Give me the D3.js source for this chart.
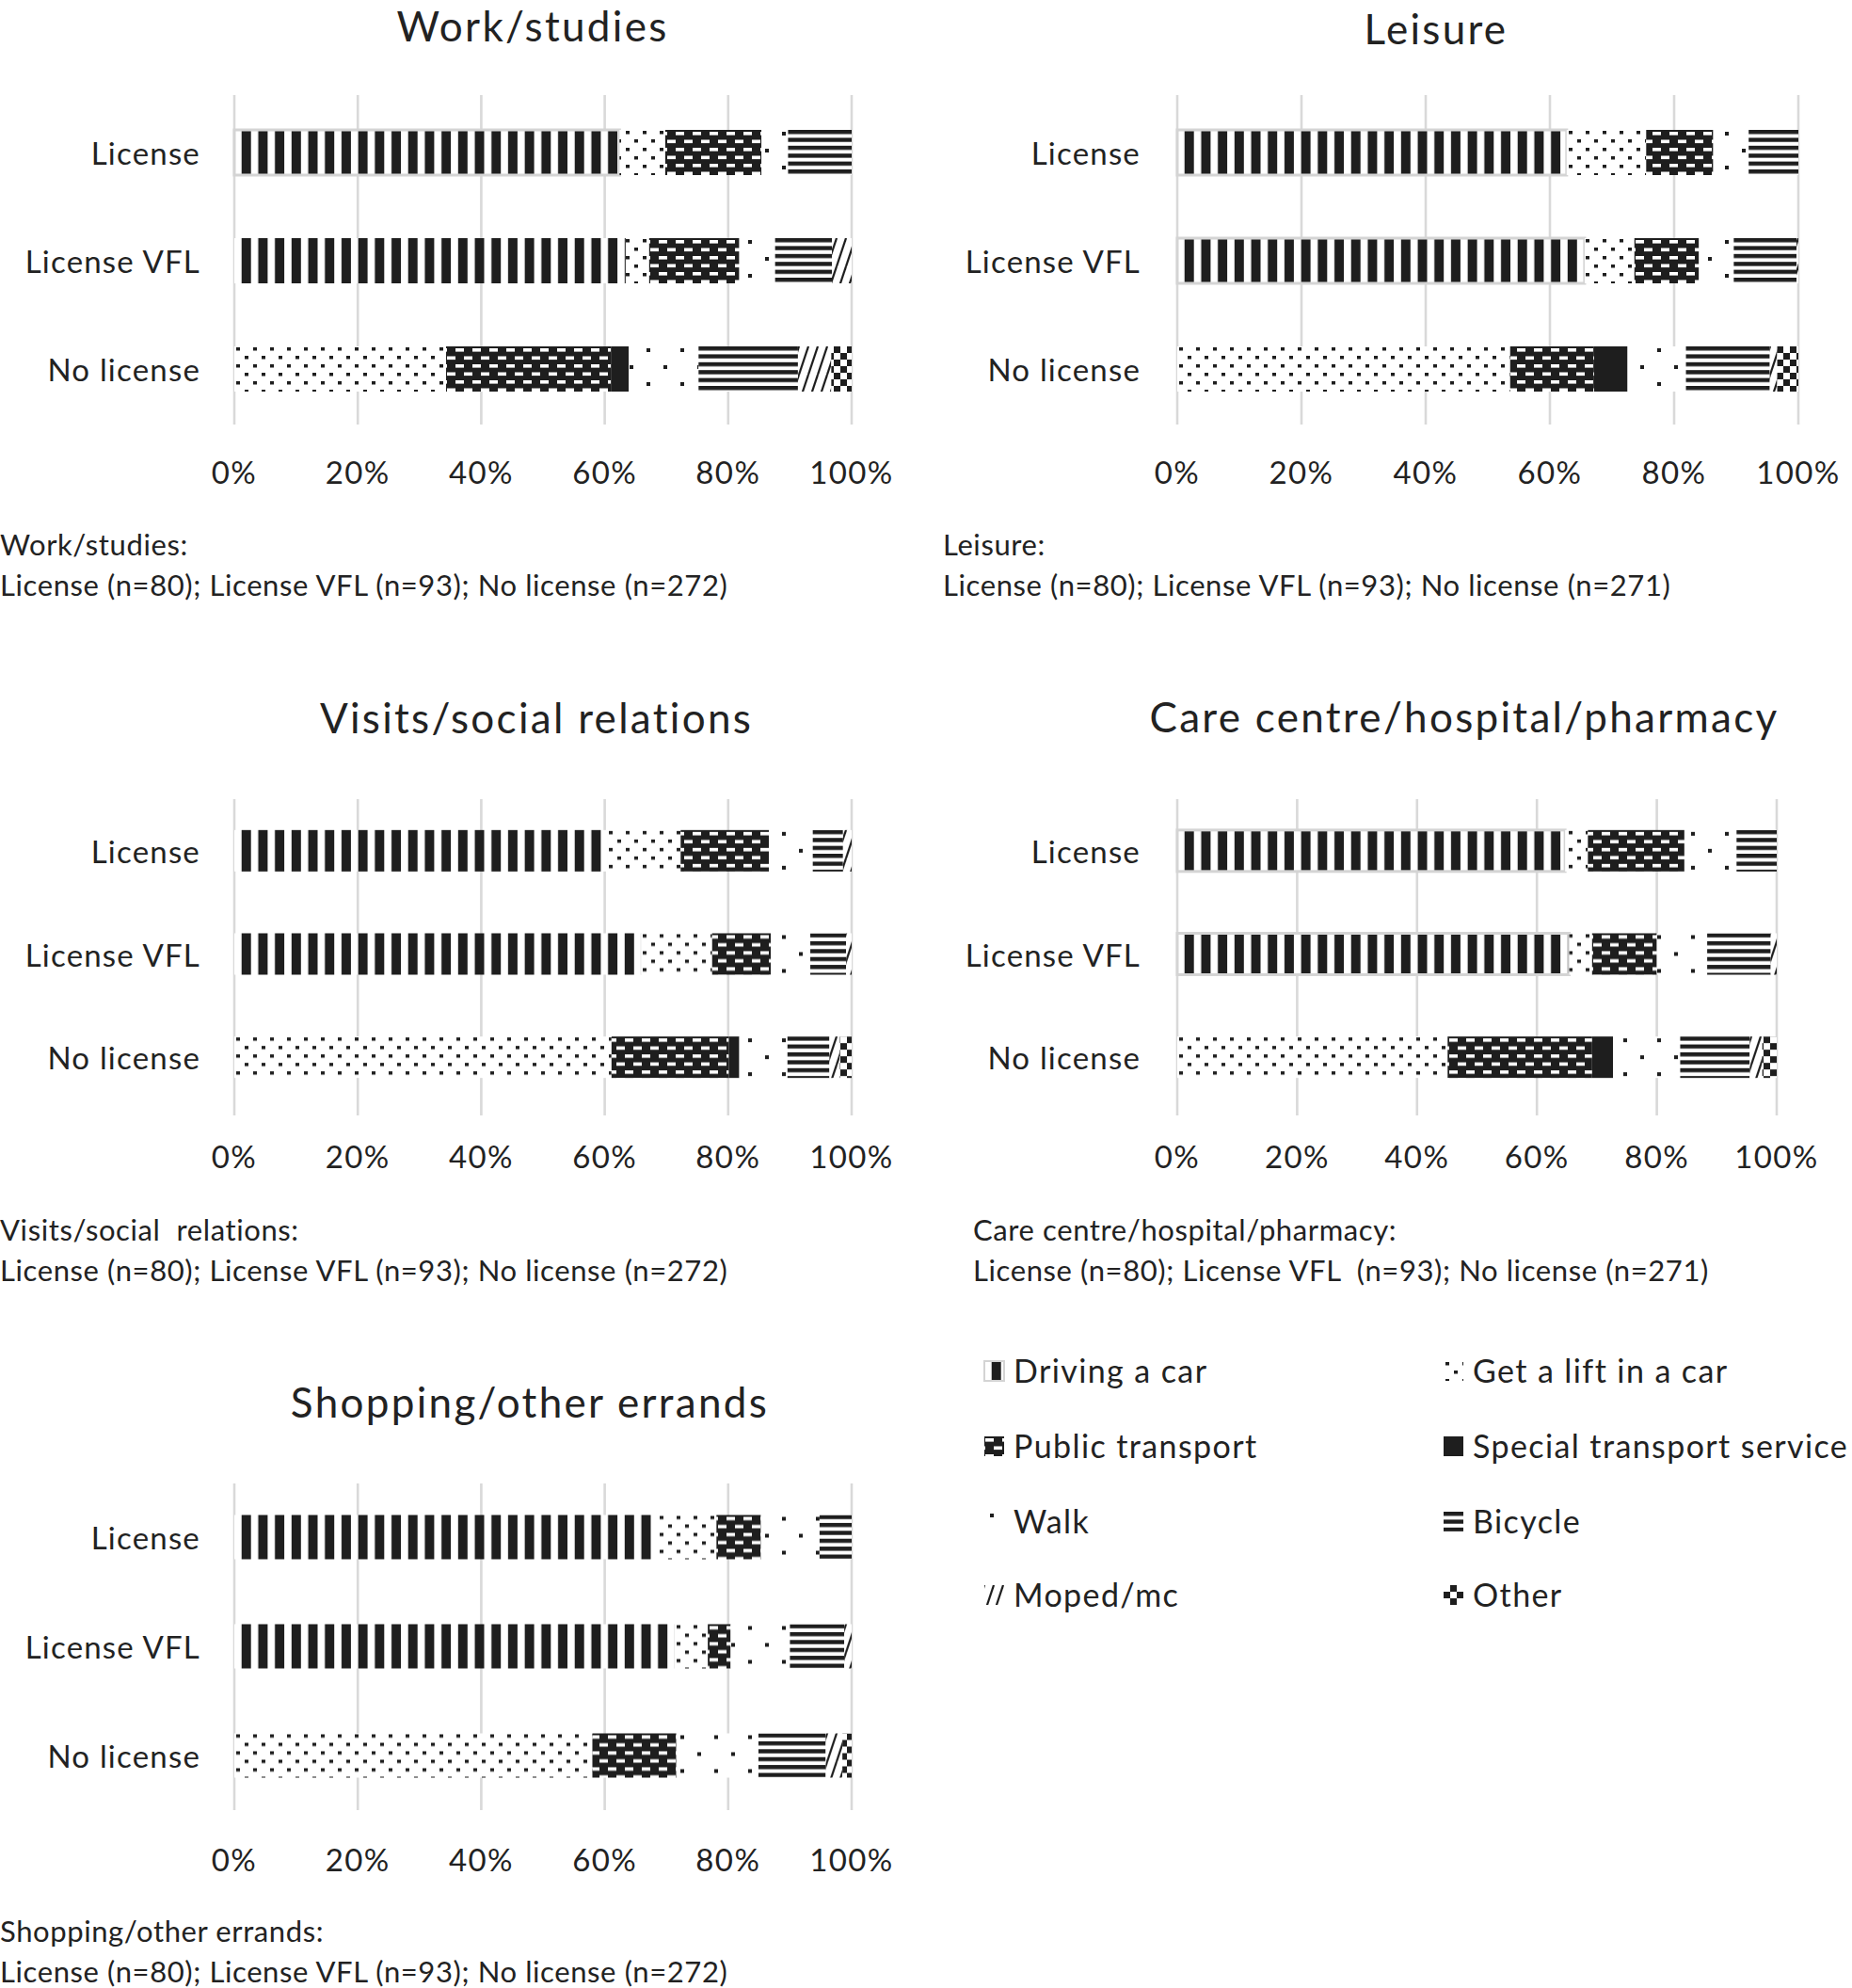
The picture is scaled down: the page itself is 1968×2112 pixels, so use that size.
<!DOCTYPE html>
<html><head><meta charset="utf-8">
<script src="https://cdn.jsdelivr.net/npm/d3@7"></script>
<style>
body{margin:0;background:#fff}
text{font-family:Lato,"Open Sans",sans-serif;fill:#222}
</style>
</head><body>
<svg id="c" width="1968" height="2112"></svg>
<script>
// ---------- data ----------
const groups = ["License", "License VFL", "No license"];
const modes = ["Driving a car", "Get a lift in a car", "Public transport", "Special transport service",
               "Walk", "Bicycle", "Moped/mc", "Other"];
const tickValues = [0, 0.2, 0.4, 0.6, 0.8, 1];
const tickLabels = ["0%", "20%", "40%", "60%", "80%", "100%"];
const purposes = ["Work/studies", "Leisure", "Visits/social relations", "Care centre/hospital/pharmacy", "Shopping/other errands"];
const noteTitles = ["Work/studies:", "Leisure:", "Visits/social\u00a0 relations:", "Care centre/hospital/pharmacy:", "Shopping/other errands:"];
const noteCounts = [
  "License (n=80); License VFL (n=93); No license (n=272)",
  "License (n=80); License VFL (n=93); No license (n=271)",
  "License (n=80); License VFL (n=93); No license (n=272)",
  "License (n=80); License VFL\u00a0 (n=93); No license (n=271)",
  "License (n=80); License VFL (n=93); No license (n=272)"
];
// percentages per mode (order of `modes`)
const workLicense  = [62.4, 7.4, 15.6, 0, 4.3, 10.3, 0, 0];
const workVFL      = [63.4, 3.8, 14.6, 0, 5.8, 9.2, 3.2, 0];
const workNo       = [0, 34.3, 26.7, 2.9, 11.3, 16.1, 5.4, 3.3];
const leisureLicense = [62.7, 12.8, 10.8, 0, 5.7, 8.0, 0, 0];
const leisureVFL     = [65.6, 8.0, 10.4, 0, 5.6, 10.1, 0.3, 0];
const leisureNo      = [0, 53.6, 13.5, 5.4, 9.4, 13.5, 1.2, 3.4];
const visitsLicense = [60.4, 11.9, 14.3, 0, 7.1, 4.9, 1.4, 0];
const visitsVFL     = [65.9, 11.5, 9.5, 0, 6.4, 5.8, 0.9, 0];
const visitsNo      = [0, 61.1, 19.0, 1.7, 7.8, 6.8, 1.7, 1.9];
const careLicense = [64.7, 3.8, 16.1, 0, 8.7, 6.7, 0, 0];
const careVFL     = [65.4, 3.8, 10.8, 0, 8.4, 10.6, 1.0, 0];
const careNo      = [0, 45.1, 24.1, 3.5, 11.2, 11.6, 2.1, 2.4];
const shopLicense = [68.4, 9.7, 7.2, 0, 9.5, 5.2, 0, 0];
const shopVFL     = [71.3, 5.4, 3.7, 0, 9.6, 8.8, 1.2, 0];
const shopNo      = [0, 58.0, 13.6, 0, 13.3, 10.9, 2.7, 1.5];

// ---------- layout ----------
const panels = [
  {data:[workLicense, workVFL, workNo], x0:249, x1:905, gridTop:101, gridBottom:451, band:[104.5,449.5], barH:48,
   titleX:566, titleY:44, tickY:514, labelX:213, noteX:0, noteY:590, outlined:[0]},
  {data:[leisureLicense, leisureVFL, leisureNo], x0:1251, x1:1911, gridTop:101, gridBottom:451, band:[104.5,449.5], barH:48,
   titleX:1526, titleY:47, tickY:514, labelX:1212, noteX:1002, noteY:590, outlined:[0,1]},
  {data:[visitsLicense, visitsVFL, visitsNo], x0:249, x1:905, gridTop:849, gridBottom:1185, band:[849,1178], barH:44,
   titleX:570, titleY:779, tickY:1241, labelX:213, noteX:0, noteY:1318, outlined:[]},
  {data:[careLicense, careVFL, careNo], x0:1251, x1:1888, gridTop:849, gridBottom:1185, band:[849,1178], barH:44,
   titleX:1556, titleY:778, tickY:1241, labelX:1212, noteX:1034, noteY:1318, outlined:[0,1]},
  {data:[shopLicense, shopVFL, shopNo], x0:249, x1:905, gridTop:1576, gridBottom:1923, band:[1575,1923], barH:47,
   titleX:563, titleY:1506, tickY:1988, labelX:213, noteX:0, noteY:2063, outlined:[]}
];

const INK = "#1e1e1e";
const svg = d3.select("#c");
const defs = svg.append("defs");
function pat(id, w, h, draw){
  const p = defs.append("pattern").attr("id", id).attr("patternUnits", "userSpaceOnUse")
    .attr("width", w).attr("height", h);
  draw(p, w, h);
}
const bg = (p,w,h,c) => p.append("rect").attr("width", w).attr("height", h).attr("fill", c);
pat("m0", 17.7, 10, (p,w,h)=>{ bg(p,w,h,"#fff"); p.append("rect").attr("x",7.7).attr("width",10).attr("height",h).attr("fill",INK); });
pat("m1", 18, 18, (p,w,h)=>{ bg(p,w,h,"#fff");
  p.append("rect").attr("x",2).attr("y",1).attr("width",4).attr("height",3.5).attr("fill",INK);
  p.append("rect").attr("x",11).attr("y",10).attr("width",4).attr("height",3.5).attr("fill",INK); });
pat("m2", 18, 17, (p,w,h)=>{ bg(p,w,h,INK);
  p.append("rect").attr("x",1).attr("y",2).attr("width",9).attr("height",3.6).attr("fill","#fff");
  p.append("rect").attr("x",10).attr("y",10.5).attr("width",8).attr("height",3.6).attr("fill","#fff");
  p.append("rect").attr("x",0).attr("y",10.5).attr("width",1).attr("height",3.6).attr("fill","#fff"); });
pat("m3", 10, 10, (p,w,h)=>{ bg(p,w,h,INK); });
pat("m4", 36, 36, (p,w,h)=>{ bg(p,w,h,"#fff");
  p.append("rect").attr("x",6).attr("y",2).attr("width",4).attr("height",4).attr("fill",INK);
  p.append("rect").attr("x",24).attr("y",20).attr("width",4).attr("height",4).attr("fill",INK); });
pat("m5", 10, 8.4, (p,w,h)=>{ bg(p,w,h,"#fff"); p.append("rect").attr("width",w).attr("height",4.4).attr("fill",INK); });
pat("m6", 10, 30, (p,w,h)=>{ bg(p,w,h,"#fff");
  [[-10,0],[0,0],[10,0]].forEach(([dx])=>p.append("line").attr("x1",dx).attr("y1",30).attr("x2",dx+10).attr("y2",0)
    .attr("stroke",INK).attr("stroke-width",2.2)); });
pat("m7", 14, 14, (p,w,h)=>{ bg(p,w,h,"#fff");
  p.append("rect").attr("x",7).attr("y",0).attr("width",7).attr("height",7).attr("fill",INK);
  p.append("rect").attr("x",0).attr("y",7).attr("width",7).attr("height",7).attr("fill",INK); });

// ---------- panels ----------
panels.forEach((P, pi) => {
  const g = svg.append("g");
  const x = d3.scaleLinear().domain([0, 1]).range([P.x0, P.x1]);
  const pad = 1 - P.barH / ((P.band[1]-P.band[0])/3);
  const y = d3.scaleBand().domain(groups).range(P.band).paddingInner(pad).paddingOuter(pad/2);

  // gridlines
  g.selectAll("line.grid").data(tickValues).join("line").attr("class","grid")
    .attr("x1", d => x(d)).attr("x2", d => x(d))
    .attr("y1", P.gridTop).attr("y2", P.gridBottom)
    .attr("stroke", "#d9d9d9").attr("stroke-width", 2.6);

  // bars
  const stack = d3.stack().keys(d3.range(modes.length)).value((row, k) => row[k] / 100);
  const series = stack(P.data);
  groups.forEach((grp, gi) => {
    const rowG = g.append("g").attr("transform", `translate(${P.x0},${y(grp)})`);
    series.forEach((s, k) => {
      const seg = s[gi];
      const w = x(seg[1]) - x(seg[0]);
      if (w <= 0.01) return;
      const r = rowG.append("rect")
        .attr("x", x(seg[0]) - P.x0).attr("y", 0)
        .attr("width", w).attr("height", y.bandwidth())
        .attr("fill", `url(#m${k})`);
      if (k === 0 && P.outlined.includes(gi)) r.attr("stroke", "#d4d4d4").attr("stroke-width", 3);
    });
  });

  // category labels
  g.selectAll("text.cat").data(groups).join("text").attr("class","cat")
    .attr("x", P.labelX).attr("y", d => y(d) + y.bandwidth()/2)
    .attr("text-anchor", "end").attr("dominant-baseline", "central")
    .style("font-size", "33px").style("letter-spacing", "1.2px").text(d => d);

  // x tick labels
  g.selectAll("text.tick").data(tickValues).join("text").attr("class","tick")
    .attr("x", d => x(d)).attr("y", P.tickY).attr("text-anchor", "middle")
    .style("font-size", "33px").style("letter-spacing", "1.4px").text((d, i) => tickLabels[i]);

  // title
  g.append("text").attr("x", P.titleX).attr("y", P.titleY).attr("text-anchor", "middle")
    .style("font-size", "44px").style("letter-spacing", "2.3px").text(purposes[pi]);

  // footnote
  const note = g.append("text").attr("x", P.noteX).attr("y", P.noteY)
    .style("font-size", "31px").style("letter-spacing", "0.6px").style("white-space","pre");
  note.append("tspan").attr("x", P.noteX).text(noteTitles[pi]);
  note.append("tspan").attr("x", P.noteX).attr("dy", 43).text(noteCounts[pi]);
});

// ---------- legend ----------
const legCols = [1046, 1534];
const legRows = [1469, 1549, 1629, 1707];
modes.forEach((m, k) => {
  const cx = legCols[k % 2], by = legRows[Math.floor(k / 2)];
  const lg = svg.append("g").attr("transform", `translate(${cx},${by - 23})`);
  const r = lg.append("rect").attr("width", 21).attr("height", 21).attr("fill", `url(#m${k})`);
  if (k === 0) r.attr("stroke", "#d4d4d4").attr("stroke-width", 2);
  svg.append("text").attr("x", cx + 31).attr("y", by)
    .style("font-size", "34px").style("letter-spacing", "1.4px").text(m);
});
</script>
</body></html>
